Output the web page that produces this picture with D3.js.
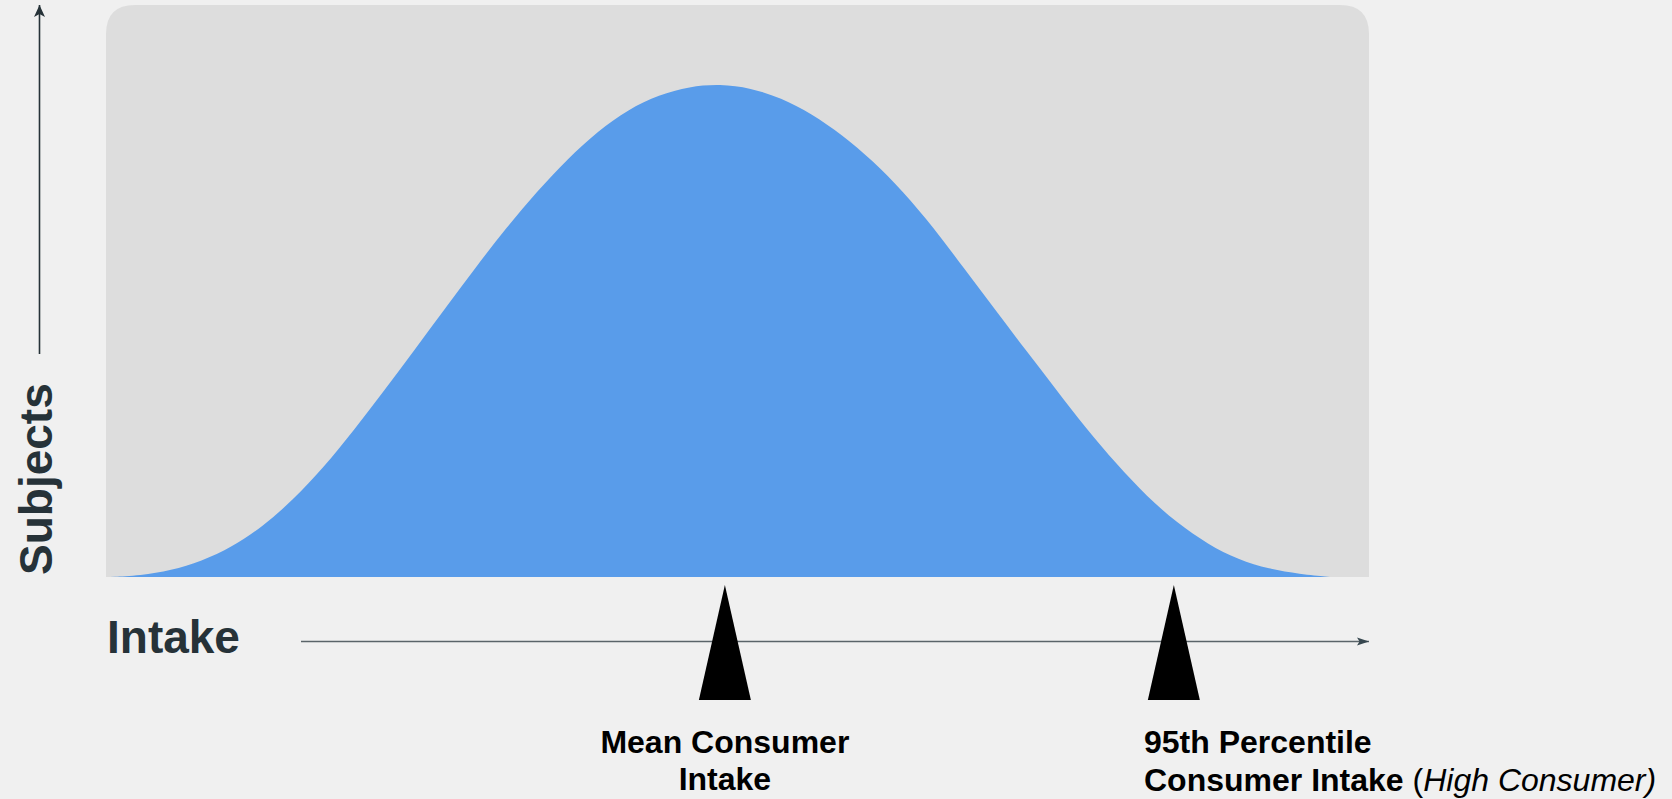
<!DOCTYPE html>
<html>
<head>
<meta charset="utf-8">
<script src="https://cdn.jsdelivr.net/npm/d3@7"></script>
<style>
  html, body { margin: 0; padding: 0; background: #f0f0f0; }
  svg { display: block; }
  text { font-family: "Liberation Sans", Arial, Helvetica, sans-serif; }
</style>
</head>
<body>
<svg id="chart" width="1672" height="799"></svg>
<script>
// Intake grid (relative units) and share of subjects at each intake (% of peak)
const intake = [0, 2.5, 5, 7.5, 10, 12.5, 15, 17.5, 20, 22.5, 25, 27.5, 30, 32.5, 35, 37.5, 40, 42.5, 45, 47.5,
                50, 52.5, 55, 57.5, 60, 62.5, 65, 67.5, 70, 72.5, 75, 77.5, 80, 82.5, 85, 87.5, 90, 92.5, 95, 97.5, 100];
const subjects = [0, 0.3, 1.3, 3.2, 6.1, 10.2, 15.6, 22.2, 29.8, 37.9, 46.2, 54.6, 62.9, 70.9, 78.2, 84.8, 90.5, 94.9, 97.8, 99.5,
                  100, 99.2, 97.2, 94.0, 89.7, 84.5, 78.2, 70.9, 62.6, 54.4, 46.2, 38.2, 30.1, 22.9, 16.3, 10.9, 6.6, 3.5, 1.6, 0.6, 0];

// Reference intakes marked under the axis
const markerNames = ["Mean Consumer Intake", "95th Percentile Consumer Intake"];
const markerIntake = [50.4, 87.2];

const axisLabelX = "Intake";
const axisLabelY = "Subjects";

const svg = d3.select("#chart");

// plot panel
const panel = { left: 106, right: 1369, top: 5, bottom: 577, r: 29 };

const x = d3.scaleLinear().domain([0, 100]).range([110, 1330]);
const y = d3.scaleLinear().domain([0, 100]).range([577, 84]);

const ink = "#263238";

// arrow heads
const defs = svg.append("defs");
defs.append("marker")
  .attr("id", "headY")
  .attr("viewBox", "0 0 12 12")
  .attr("refX", 12).attr("refY", 6)
  .attr("markerWidth", 12).attr("markerHeight", 12)
  .attr("markerUnits", "userSpaceOnUse")
  .attr("orient", "auto")
  .append("path").attr("d", "M0,0.5 L12,6 L0,11.5 L3,6 Z").attr("fill", ink);
defs.append("marker")
  .attr("id", "headX")
  .attr("viewBox", "0 0 12 10")
  .attr("refX", 12).attr("refY", 5)
  .attr("markerWidth", 12).attr("markerHeight", 10)
  .attr("markerUnits", "userSpaceOnUse")
  .attr("orient", "auto")
  .append("path").attr("d", "M0,1 L12,5 L0,9 L2.5,5 Z").attr("fill", "#37474f");

// background panel with rounded top corners
const p = panel;
svg.append("path")
  .attr("d", `M${p.left},${p.bottom} L${p.left},${p.top + p.r} Q${p.left},${p.top} ${p.left + p.r},${p.top}
              L${p.right - p.r},${p.top} Q${p.right},${p.top} ${p.right},${p.top + p.r} L${p.right},${p.bottom} Z`)
  .attr("fill", "#dddddd");

// distribution of intake across subjects
const rows = intake.map((v, i) => ({ x: v, y: subjects[i] }));
const area = d3.area()
  .x(d => x(d.x))
  .y0(y(0))
  .y1(d => y(d.y))
  .curve(d3.curveBasis);
svg.append("path")
  .datum(rows)
  .attr("d", area)
  .attr("fill", "#599cea");

// vertical axis arrow
svg.append("line")
  .attr("x1", 39.5).attr("y1", 354)
  .attr("x2", 39.5).attr("y2", 5)
  .attr("stroke", ink).attr("stroke-width", 1.6)
  .attr("marker-end", "url(#headY)");

// horizontal axis arrow
svg.append("line")
  .attr("x1", 301).attr("y1", 641.5)
  .attr("x2", 1369).attr("y2", 641.5)
  .attr("stroke", "#5a6469").attr("stroke-width", 1.4)
  .attr("marker-end", "url(#headX)");

// axis labels
svg.append("text")
  .attr("x", 107).attr("y", 653)
  .attr("font-size", 46).attr("font-weight", "bold")
  .attr("fill", ink)
  .text(axisLabelX);

svg.append("text")
  .attr("transform", "translate(52,575) rotate(-90)")
  .attr("font-size", 46).attr("font-weight", "bold")
  .attr("fill", ink)
  .text(axisLabelY);

// triangular markers
const triTop = 585, triBottom = 700, triHalf = 26;
svg.selectAll("path.marker")
  .data(markerIntake)
  .join("path")
  .attr("class", "marker")
  .attr("d", v => `M${x(v)},${triTop} L${x(v) + triHalf},${triBottom} L${x(v) - triHalf},${triBottom} Z`)
  .attr("fill", "#000");

// marker captions
const meanLabel = svg.append("text")
  .attr("font-size", 32).attr("font-weight", "bold").attr("fill", "#000")
  .attr("text-anchor", "middle");
meanLabel.append("tspan").attr("x", x(markerIntake[0])).attr("y", 753).text("Mean Consumer");
meanLabel.append("tspan").attr("x", x(markerIntake[0])).attr("y", 790).text("Intake");

const highLabel = svg.append("text")
  .attr("font-size", 32).attr("fill", "#000");
highLabel.append("tspan").attr("x", 1144).attr("y", 753).attr("font-weight", "bold").text("95th Percentile");
highLabel.append("tspan").attr("x", 1144).attr("y", 791).attr("font-weight", "bold").text("Consumer Intake");
highLabel.append("tspan").text(" (");
highLabel.append("tspan").attr("font-style", "italic").text("High Consumer)");
</script>
</body>
</html>
